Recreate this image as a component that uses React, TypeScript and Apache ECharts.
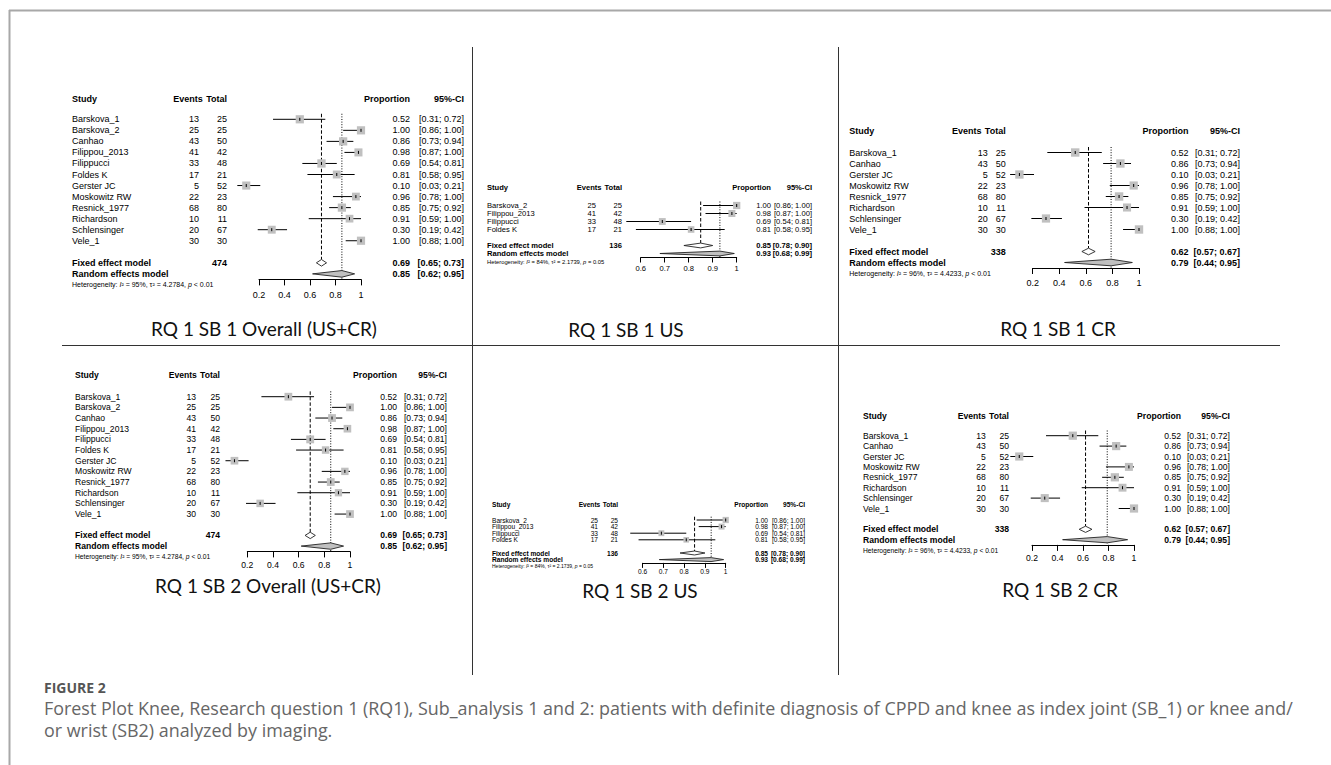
import React, { useEffect, useRef } from "react";
import * as echarts from "echarts";

// ---------- DATA ----------
const studiesOverall = ["Barskova_1", "Barskova_2", "Canhao", "Filippou_2013", "Filippucci", "Foldes K", "Gerster JC", "Moskowitz RW", "Resnick_1977", "Richardson", "Schlensinger", "Vele_1"];
const eventsOverall = [13, 25, 43, 41, 33, 17, 5, 22, 68, 10, 20, 30];
const totalsOverall = [25, 25, 50, 42, 48, 21, 52, 23, 80, 11, 67, 30];
const propOverall = [0.52, 1.0, 0.86, 0.98, 0.69, 0.81, 0.1, 0.96, 0.85, 0.91, 0.3, 1.0];
const lowerOverall = [0.31, 0.86, 0.73, 0.87, 0.54, 0.58, 0.03, 0.78, 0.75, 0.59, 0.19, 0.88];
const upperOverall = [0.72, 1.0, 0.94, 1.0, 0.81, 0.95, 0.21, 1.0, 0.92, 1.0, 0.42, 1.0];
const weightOverall = [8.6, 8.6, 8.7, 8.3, 8.8, 8.0, 8.4, 7.8, 8.6, 7.6, 8.0, 8.6];
const fixedOverall = [0.69, 0.65, 0.73];
const randomOverall = [0.85, 0.62, 0.95];
const nOverall = 474;
const hetOverall = ["95%", "4.2784", "< 0.01"];

const studiesUS = ["Barskova_2", "Filippou_2013", "Filippucci", "Foldes K"];
const eventsUS = [25, 41, 33, 17];
const totalsUS = [25, 42, 48, 21];
const propUS = [1.0, 0.98, 0.69, 0.81];
const lowerUS = [0.86, 0.87, 0.54, 0.58];
const upperUS = [1.0, 1.0, 0.81, 0.95];
const weightUS = [27, 25, 24, 22];
const fixedUS = [0.85, 0.78, 0.9];
const randomUS = [0.93, 0.68, 0.99];
const nUS = 136;
const hetUS = ["84%", "2.1739", "= 0.05"];

const studiesCR = ["Barskova_1", "Canhao", "Gerster JC", "Moskowitz RW", "Resnick_1977", "Richardson", "Schlensinger", "Vele_1"];
const eventsCR = [13, 43, 5, 22, 68, 10, 20, 30];
const totalsCR = [25, 50, 52, 23, 80, 11, 67, 30];
const propCR = [0.52, 0.86, 0.1, 0.96, 0.85, 0.91, 0.3, 1.0];
const lowerCR = [0.31, 0.73, 0.03, 0.78, 0.75, 0.59, 0.19, 0.88];
const upperCR = [0.72, 0.94, 0.21, 1.0, 0.92, 1.0, 0.42, 1.0];
const weightCR = [12.8, 12.7, 12.6, 12.1, 12.9, 11.8, 12.3, 12.8];
const fixedCR = [0.62, 0.57, 0.67];
const randomCR = [0.79, 0.44, 0.95];
const nCR = 338;
const hetCR = ["96%", "4.4233", "< 0.01"];

const ticksProp = [0.2, 0.4, 0.6, 0.8, 1];
const ticksUS = [0.6, 0.7, 0.8, 0.9, 1];

const captionLabel = "FIGURE 2";
const captionLines = [
  "Forest Plot Knee, Research question 1 (RQ1), Sub_analysis 1 and 2: patients with definite diagnosis of CPPD and knee as index joint (SB_1) or knee and/",
  "or wrist (SB2) analyzed by imaging.",
];

// ---------- LAYOUT ----------
const FONT = '"Liberation Sans", Arial, Helvetica, sans-serif';

const sets: any = {
  overall: { names: studiesOverall, events: eventsOverall, totals: totalsOverall, prop: propOverall, lo: lowerOverall, hi: upperOverall, w: weightOverall, fixed: fixedOverall, random: randomOverall, n: nOverall, het: hetOverall, ticks: ticksProp },
  us: { names: studiesUS, events: eventsUS, totals: totalsUS, prop: propUS, lo: lowerUS, hi: upperUS, w: weightUS, fixed: fixedUS, random: randomUS, n: nUS, het: hetUS, ticks: ticksUS },
  cr: { names: studiesCR, events: eventsCR, totals: totalsCR, prop: propCR, lo: lowerCR, hi: upperCR, w: weightCR, fixed: fixedCR, random: randomCR, n: nCR, het: hetCR, ticks: ticksProp },
};

const panels = [
  { title: "RQ 1 SB 1 Overall (US+CR)", set: "overall", x0: 259, x1: 361, studyX: 72, evR: 199, totR: 227, propR: 410, ciR: 464, firstY: 119.3, step: 11.04, headerRow: -1.85, font: 9, hetFont: 7, sq: 2.8, labelGap: 11, titleX: 264, titleY: 328 },
  { title: "RQ 1 SB 1 US", set: "us", x0: 640.7, x1: 736.7, studyX: 487, evR: 596, totR: 622, propR: 771, ciR: 812, firstY: 205.5, step: 8, headerRow: -2.2, font: 7.6, hetFont: 5.8, sq: 1.4, labelGap: 7, titleX: 626, titleY: 329 },
  { title: "RQ 1 SB 1 CR", set: "cr", x0: 1032.7, x1: 1139, studyX: 849.3, evR: 987.7, totR: 1005.7, propR: 1188.5, ciR: 1240, firstY: 152.5, step: 11, headerRow: -1.98, font: 9, hetFont: 7, sq: 2.35, labelGap: 10.5, titleX: 1058, titleY: 328 },
  { title: "RQ 1 SB 2 Overall (US+CR)", set: "overall", x0: 247.3, x1: 350, studyX: 75, evR: 196, totR: 220, propR: 397, ciR: 447, firstY: 396.7, step: 10.67, headerRow: -2.03, font: 8.6, hetFont: 6.7, sq: 2.65, labelGap: 9, titleX: 268, titleY: 585 },
  { title: "RQ 1 SB 2 US", set: "us", x0: 642.7, x1: 725.7, studyX: 492, evR: 598, totR: 618, propR: 768, ciR: 805, firstY: 520, step: 6.6, headerRow: -2.3, font: 6.6, hetFont: 5, sq: 1.2, labelGap: 5.5, titleX: 640, titleY: 590 },
  { title: "RQ 1 SB 2 CR", set: "cr", x0: 1032, x1: 1134, studyX: 863, evR: 985.7, totR: 1009, propR: 1181, ciR: 1230, firstY: 435.7, step: 10.4, headerRow: -1.89, font: 8.6, hetFont: 6.7, sq: 2.3, labelGap: 9, titleX: 1060, titleY: 589 },
];

function txt(text: string, x: number, y: number, size: number, align: string, bold = false) {
  return {
    type: "text",
    x,
    y,
    silent: true,
    style: {
      text,
      fontSize: size,
      fontFamily: FONT,
      fontWeight: bold ? "bold" : "normal",
      fill: "#000",
      align,
      verticalAlign: "middle",
      textAlign: align,
      textVerticalAlign: "middle",
    },
  };
}

const fmt = (v: number) => v.toFixed(2);
const ciFmt = (a: number, b: number) => `[${fmt(a)}; ${fmt(b)}]`;

function buildOption() {
  const grid: any[] = [];
  const xAxis: any[] = [];
  const yAxis: any[] = [];
  const series: any[] = [];

  panels.forEach((p, k) => {
    const d = sets[p.set];
    const n = d.names.length;
    const t = d.ticks;
    grid.push({ left: p.x0, top: p.firstY - 2.5 * p.step, width: p.x1 - p.x0, height: (n + 5) * p.step });
    xAxis.push({
      gridIndex: k,
      type: "value",
      min: t[0],
      max: t[t.length - 1],
      interval: Math.round((t[1] - t[0]) * 1000) / 1000,
      axisLine: { show: true, onZero: false, lineStyle: { color: "#000", width: 1 } },
      axisTick: { show: true, length: Math.round(p.font * 0.7), lineStyle: { color: "#000", width: 1 } },
      axisLabel: { fontSize: p.font, fontFamily: FONT, color: "#000", margin: p.labelGap, formatter: (v: number) => String(Math.round(v * 10) / 10) },
      splitLine: { show: false },
    });
    yAxis.push({ gridIndex: k, type: "value", min: -2.5, max: n + 2.5, inverse: true, show: false, splitLine: { show: false } });

    const base = { type: "custom", coordinateSystem: "cartesian2d", xAxisIndex: k, yAxisIndex: k, silent: true, animation: false };
    const totalHdrW = 2.389 * p.font;

    // header row
    series.push({
      ...base,
      z: 5,
      data: [[t[0], p.headerRow]],
      renderItem: (params: any, api: any) => {
        const y = api.coord([api.value(0), api.value(1)])[1];
        return {
          type: "group",
          children: [
            txt("Study", p.studyX, y, p.font, "left", true),
            txt("Events", p.totR - totalHdrW - p.font * 0.3, y, p.font, "right", true),
            txt("Total", p.totR, y, p.font, "right", true),
            txt("Proportion", p.propR, y, p.font, "right", true),
            txt("95%-CI", p.ciR, y, p.font, "right", true),
          ],
        };
      },
    });

    // reference lines (fixed dashed, random dotted)
    series.push({
      ...base,
      z: 2,
      data: [
        [d.fixed[0], -0.5, n + 1 - 0.3, 0],
        [d.random[0], -0.5, n + 2.5, 1],
      ],
      renderItem: (params: any, api: any) => {
        const a = api.coord([api.value(0), api.value(1)]);
        const b = api.coord([api.value(0), api.value(2)]);
        const dotted = api.value(3) === 1;
        return {
          type: "line",
          shape: { x1: a[0], y1: a[1], x2: b[0], y2: b[1] },
          style: { stroke: "#000", lineWidth: 1, lineDash: dotted ? [1, 1.6] : [3.5, 2] },
        };
      },
    });

    // studies
    series.push({
      ...base,
      z: 4,
      data: d.names.map((_: string, i: number) => [d.prop[i], d.lo[i], d.hi[i], i, d.w[i]]),
      renderItem: (params: any, api: any) => {
        const i = params.dataIndex;
        const row = api.value(3);
        const [xe, y] = api.coord([api.value(0), row]);
        const xl = api.coord([api.value(1), row])[0];
        const xh = api.coord([api.value(2), row])[0];
        const half = (Math.sqrt(api.value(4)) * p.sq) / 2;
        return {
          type: "group",
          children: [
            txt(d.names[i], p.studyX, y, p.font, "left"),
            txt(String(d.events[i]), p.evR, y, p.font, "right"),
            txt(String(d.totals[i]), p.totR, y, p.font, "right"),
            txt(fmt(d.prop[i]), p.propR, y, p.font, "right"),
            txt(ciFmt(d.lo[i], d.hi[i]), p.ciR, y, p.font, "right"),
            { type: "line", shape: { x1: xl, y1: y, x2: xh, y2: y }, style: { stroke: "#000", lineWidth: 1 } },
            { type: "rect", shape: { x: xe - half, y: y - half, width: half * 2, height: half * 2 }, style: { fill: "#c0c0c0" } },
            { type: "line", shape: { x1: xe, y1: y - 1.5, x2: xe, y2: y + 1.5 }, style: { stroke: "#000", lineWidth: 1 } },
          ],
        };
      },
    });

    // summary rows
    series.push({
      ...base,
      z: 4,
      data: [
        [d.fixed[0], d.fixed[1], d.fixed[2], n + 1, 0],
        [d.random[0], d.random[1], d.random[2], n + 2, 1],
      ],
      renderItem: (params: any, api: any) => {
        const kind = api.value(4);
        const row = api.value(3);
        const [xe, y] = api.coord([api.value(0), row]);
        const xl = api.coord([api.value(1), row])[0];
        const xh = api.coord([api.value(2), row])[0];
        const h = p.step * 0.3;
        const children: any[] = [
          txt(kind === 0 ? "Fixed effect model" : "Random effects model", p.studyX, y, p.font, "left", true),
          txt(fmt(api.value(0)), p.propR, y, p.font, "right", true),
          txt(ciFmt(api.value(1), api.value(2)), p.ciR, y, p.font, "right", true),
          {
            type: "polygon",
            shape: { points: [[xl, y], [xe, y - h], [xh, y], [xe, y + h]] },
            style: { fill: kind === 0 ? "#ffffff" : "#c0c0c0", stroke: "#222", lineWidth: 0.9 },
          },
        ];
        if (kind === 0) children.push(txt(String(d.n), p.totR, y, p.font, "right", true));
        return { type: "group", children };
      },
    });

    // heterogeneity
    series.push({
      ...base,
      z: 5,
      data: [[t[0], n + 3]],
      renderItem: (params: any, api: any) => {
        const y = api.coord([api.value(0), api.value(1)])[1];
        const rs = { fontSize: p.hetFont, fontFamily: FONT, fill: "#000" };
        return {
          type: "text",
          x: p.studyX,
          y,
          style: {
            text: `{n|Heterogeneity: }{i|I}{n|² = ${d.het[0]}, τ² = ${d.het[1]}, }{i|p}{n| ${d.het[2]}}`,
            rich: { n: { ...rs }, i: { ...rs, fontStyle: "italic" } },
            fontSize: p.hetFont,
            fontFamily: FONT,
            align: "left",
            verticalAlign: "middle",
            textAlign: "left",
            textVerticalAlign: "middle",
          },
        };
      },
    });
  });

  const graphic: any[] = [];
  // frame
  graphic.push({ type: "line", shape: { x1: 9, y1: 10.5, x2: 1331, y2: 10.5 }, style: { stroke: "#a8a8a8", lineWidth: 2 } });
  graphic.push({ type: "line", shape: { x1: 9.5, y1: 10, x2: 9.5, y2: 765 }, style: { stroke: "#a8a8a8", lineWidth: 2 } });
  // panel dividers
  graphic.push({ type: "line", shape: { x1: 472.5, y1: 47, x2: 472.5, y2: 675 }, style: { stroke: "#333", lineWidth: 1 } });
  graphic.push({ type: "line", shape: { x1: 838.5, y1: 47, x2: 838.5, y2: 675 }, style: { stroke: "#333", lineWidth: 1 } });
  graphic.push({ type: "line", shape: { x1: 62, y1: 345.5, x2: 1280, y2: 345.5 }, style: { stroke: "#333", lineWidth: 1 } });
  // panel titles
  panels.forEach((p) => {
    graphic.push({
      type: "text",
      x: p.titleX,
      y: p.titleY,
      style: { text: p.title, fontSize: 19, fontFamily: "Lato, 'Open Sans', sans-serif", fill: "#111", textAlign: "center", textVerticalAlign: "middle", align: "center", verticalAlign: "middle" },
    });
  });
  // caption
  graphic.push({
    type: "text",
    x: 44,
    y: 687,
    style: { text: captionLabel, fontSize: 14, fontWeight: "bold", fontFamily: "'Open Sans', sans-serif", fill: "#555", textVerticalAlign: "middle", verticalAlign: "middle" },
  });
  captionLines.forEach((line, i) => {
    graphic.push({
      type: "text",
      x: 44,
      y: 708 + i * 22,
      style: { text: line, fontSize: 17.9, fontFamily: "'Open Sans', sans-serif", fill: "#666", textVerticalAlign: "middle", verticalAlign: "middle" },
    });
  });

  return { animation: false, backgroundColor: "#ffffff", grid, xAxis, yAxis, series, graphic: { elements: graphic } };
}

export default function App() {
  const ref = useRef<HTMLDivElement>(null);
  useEffect(() => {
    if (!ref.current) return;
    const chart = echarts.init(ref.current, undefined, { renderer: "svg" });
    chart.setOption(buildOption() as any);
    return () => chart.dispose();
  }, []);
  return <div ref={ref} style={{ position: "absolute", left: 0, top: 0, width: 1331, height: 765, background: "#fff" }} />;
}
